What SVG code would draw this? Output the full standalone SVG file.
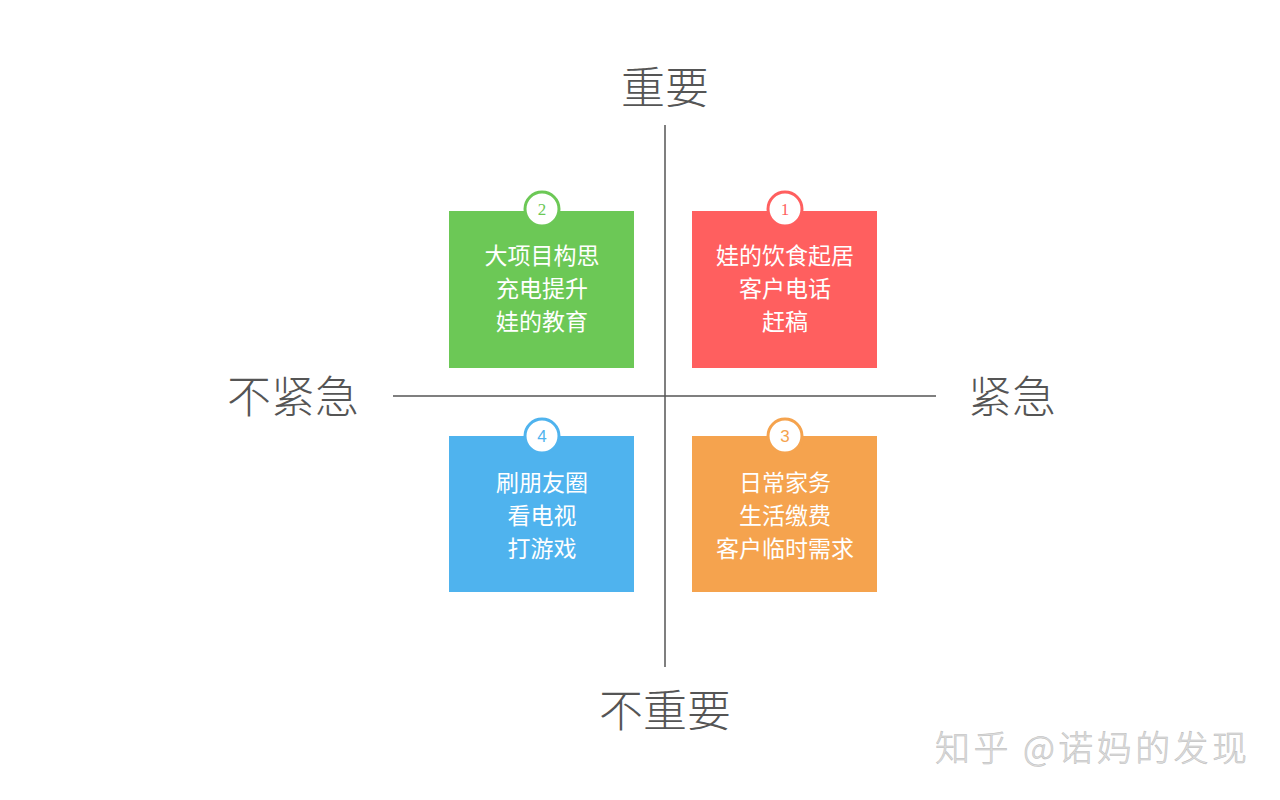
<svg xmlns="http://www.w3.org/2000/svg" width="1280" height="800" viewBox="0 0 1280 800">
<style>
.axis{stroke:#555;stroke-width:1.5}
.lbl{font-family:"Noto Sans CJK SC","Noto Sans",sans-serif;font-size:44px;fill:#555;text-anchor:middle;font-weight:300}
.t{font-family:"Noto Sans CJK SC","Noto Sans",sans-serif;font-size:23px;fill:#fff;text-anchor:middle}
.num{font-family:"Liberation Serif",serif;font-size:17px;text-anchor:middle}
.badge{fill:#fff;stroke-width:3}
.wm{font-family:"Noto Sans CJK SC","Noto Sans",sans-serif;font-size:35px;fill:#ddd;stroke:#bbb;stroke-width:0.5;font-weight:300}
</style>
<rect width="1280" height="800" fill="#fff"/>
<g id="axes">
<line class="axis" x1="665" y1="125" x2="665" y2="667"/>
<line class="axis" x1="393" y1="396" x2="936" y2="396"/>
</g>
<g id="labels">
<text class="lbl" x="665" y="104">重要</text>
<text class="lbl" x="665" y="727">不重要</text>
<text class="lbl" x="293" y="413">不紧急</text>
<text class="lbl" x="1012" y="413">紧急</text>
</g>
<g id="q2">
<rect x="449" y="211" width="185" height="157" fill="#6CC856"/>
<circle class="badge" cx="542" cy="209" r="17" stroke="#6CC856"/>
<text class="num" x="542" y="215" fill="#6CC856">2</text>
<text class="t" x="542" y="264">大项目构思</text>
<text class="t" x="542" y="297">充电提升</text>
<text class="t" x="542" y="330">娃的教育</text>
</g>
<g id="q1">
<rect x="692" y="211" width="185" height="157" fill="#FF5F5F"/>
<circle class="badge" cx="785" cy="209" r="17" stroke="#FF5F5F"/>
<text class="num" x="785" y="215" fill="#FF5F5F">1</text>
<text class="t" x="785" y="264">娃的饮食起居</text>
<text class="t" x="785" y="297">客户电话</text>
<text class="t" x="785" y="330">赶稿</text>
</g>
<g id="q4">
<rect x="449" y="436" width="185" height="156" fill="#4FB3EE"/>
<circle class="badge" cx="542" cy="436" r="17" stroke="#4FB3EE"/>
<text class="num" x="542" y="442" fill="#4FB3EE" style="font-family:'Liberation Sans',sans-serif">4</text>
<text class="t" x="542" y="491">刷朋友圈</text>
<text class="t" x="542" y="524">看电视</text>
<text class="t" x="542" y="557">打游戏</text>
</g>
<g id="q3">
<rect x="692" y="436" width="185" height="156" fill="#F5A34E"/>
<circle class="badge" cx="785" cy="436" r="17" stroke="#F5A34E"/>
<text class="num" x="785" y="442" fill="#F5A34E" style="font-family:'Liberation Sans',sans-serif">3</text>
<text class="t" x="785" y="491">日常家务</text>
<text class="t" x="785" y="524">生活缴费</text>
<text class="t" x="785" y="557">客户临时需求</text>
</g>
<g id="watermark">
<text class="wm" x="935" y="761" textLength="312" lengthAdjust="spacing">知乎 @诺妈的发现</text>
</g>
</svg>
